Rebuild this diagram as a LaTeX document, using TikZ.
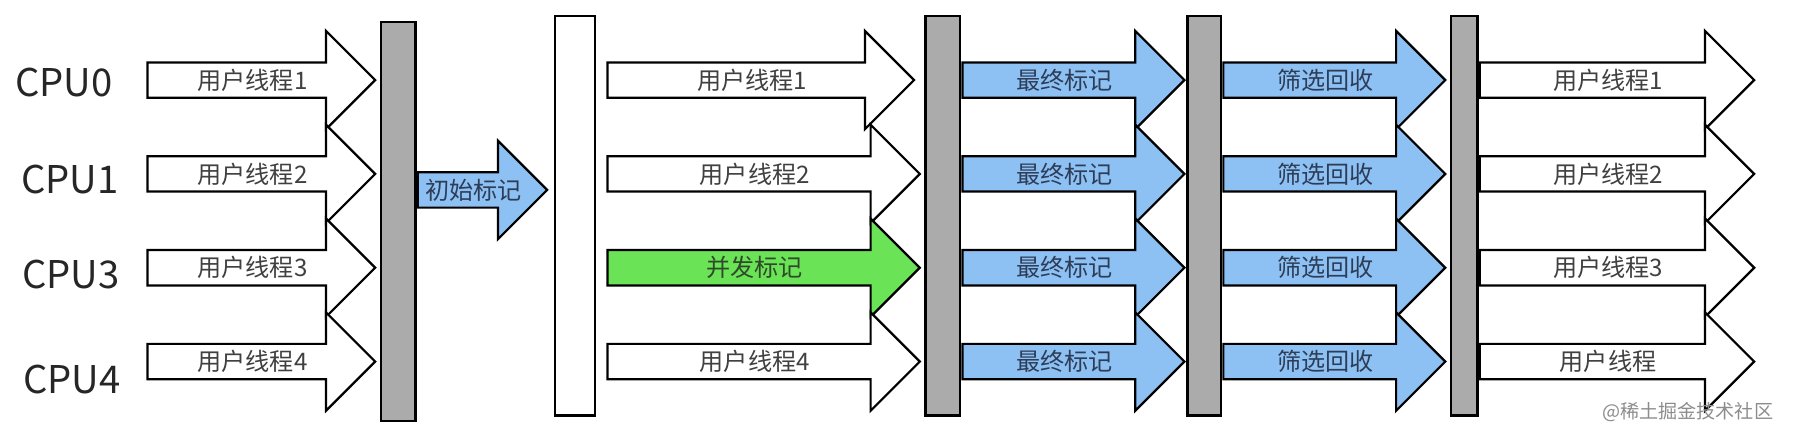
\documentclass[tikz,border=0pt]{standalone}
\usepackage{fontspec}
\newfontfamily\cjk{Noto Sans CJK SC}
\usepackage{tikz}
\usetikzlibrary{shapes.arrows,positioning}
\definecolor{barGray}{HTML}{ABABAB}
\definecolor{markBlue}{HTML}{8DC1F4}
\definecolor{concGreen}{HTML}{6BE356}
\definecolor{labelBlue}{HTML}{2E3D57}
\definecolor{labelGreen}{HTML}{2F4A2A}

\tikzset{
  blockarrow/.style={shape=single arrow, draw=black, line width=1.1pt,
    single arrow head extend=0.55cm, minimum width=1.68cm,
    inner xsep=0pt, inner ysep=0pt, text height=0.45cm, text depth=0.13cm,
    anchor=tail, font=\cjk\fontsize{12}{12}\selectfont},
  userarrow/.style={blockarrow, fill=white, text=black!75},
  bluearrow/.style={blockarrow, fill=markBlue, text=labelBlue},
  greenarrow/.style={blockarrow, fill=concGreen, text=labelGreen},
  pausebar/.style={draw=black, line width=1.3pt, fill=barGray, inner sep=0pt,
    minimum height=6.98cm, anchor=north west},
  cpulabel/.style={font=\cjk\fontsize{19}{19}\selectfont, text=black!85},
}

\begin{document}
\begin{tikzpicture}[x=0.02cm,y=-0.02cm]
\useasboundingbox (0,0) rectangle (1568,379);
% CPU names
\node[cpulabel] (cpu0) at (56,72) {CPU0};
\node[cpulabel] (cpu1) at (61,157) {CPU1};
\node[cpulabel] (cpu3) at (62,240) {CPU3};
\node[cpulabel] (cpu4) at (63,332) {CPU4};
% user threads before the first pause
\node[userarrow, minimum height=3.98cm] (ua1) at (128,70) {用户线程1};
\node[userarrow, minimum height=3.98cm] (ua2) at (128,152) {用户线程2};
\node[userarrow, minimum height=3.98cm] (ua3) at (128,234) {用户线程3};
\node[userarrow, minimum height=3.98cm] (ua4) at (128,316) {用户线程4};
% initial mark
\node[pausebar, minimum width=0.6cm] (bar1) at (332,18) {};
\node[bluearrow, minimum height=2.26cm] (init) at (bar1.east |- 0,166) {初始标记};
\node[pausebar, fill=white, minimum width=0.7cm] (bar2) at (484,13) {};
% concurrent mark
\node[userarrow, minimum height=5.36cm] (ub1) at (530,70) {用户线程1};
\node[userarrow, minimum height=5.46cm] (ub2) at (530,152) {用户线程2};
\node[greenarrow, minimum height=5.46cm] (conc) at (530,234) {并发标记};
\node[userarrow, minimum height=5.46cm] (ub4) at (530,316) {用户线程4};
% final mark
\node[pausebar, minimum width=0.6cm] (bar3) at (808,13) {};
\node[bluearrow, minimum height=3.88cm] (fm1) at (bar3.east |- 0,70) {最终标记};
\node[bluearrow, minimum height=3.88cm] (fm2) at (bar3.east |- 0,152) {最终标记};
\node[bluearrow, minimum height=3.88cm] (fm3) at (bar3.east |- 0,234) {最终标记};
\node[bluearrow, minimum height=3.88cm] (fm4) at (bar3.east |- 0,316) {最终标记};
% cleanup
\node[pausebar, minimum width=0.58cm] (bar4) at (1037,13) {};
\node[bluearrow, minimum height=3.88cm] (cl1) at (bar4.east |- 0,70) {筛选回收};
\node[bluearrow, minimum height=3.88cm] (cl2) at (bar4.east |- 0,152) {筛选回收};
\node[bluearrow, minimum height=3.88cm] (cl3) at (bar4.east |- 0,234) {筛选回收};
\node[bluearrow, minimum height=3.88cm] (cl4) at (bar4.east |- 0,316) {筛选回收};
% user threads again
\node[pausebar, minimum width=0.46cm] (bar5) at (1267,13) {};
\node[userarrow, minimum height=4.80cm] (uc1) at (bar5.east |- 0,70) {用户线程1};
\node[userarrow, minimum height=4.80cm] (uc2) at (bar5.east |- 0,152) {用户线程2};
\node[userarrow, minimum height=4.80cm] (uc3) at (bar5.east |- 0,234) {用户线程3};
\node[userarrow, minimum height=4.80cm] (uc4) at (bar5.east |- 0,316) {用户线程};
\node[font=\cjk\fontsize{9.5}{9.5}\selectfont, text=black!45, anchor=east] (wm) at (1556,360) {@稀土掘金技术社区};
\end{tikzpicture}
\end{document}
